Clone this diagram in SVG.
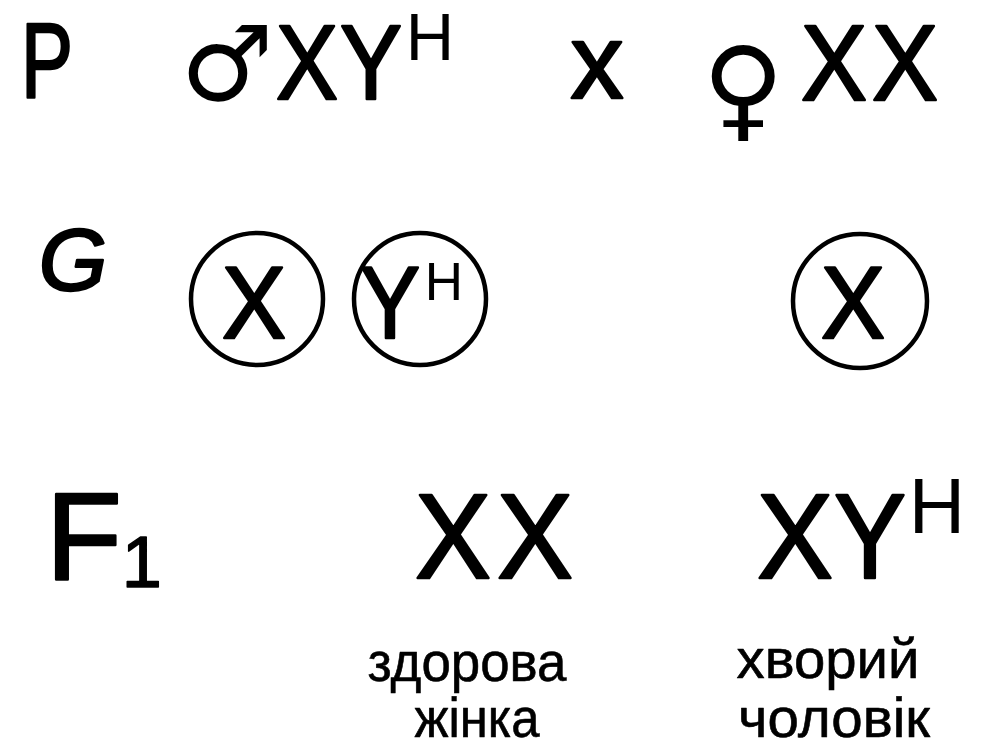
<svg xmlns="http://www.w3.org/2000/svg" width="981" height="749" viewBox="0 0 981 749">
<style>
text{font-family:"Liberation Sans","DejaVu Sans",sans-serif;fill:#000;text-anchor:middle}
.sym{font-family:"DejaVu Sans",sans-serif}
.b{stroke:#000;stroke-width:2.5;stroke-linejoin:round}
.ring{fill:none;stroke:#000;stroke-width:4.5}
.lbl{font-size:55px;stroke:#000;stroke-width:0.6;stroke-linejoin:round}
.st{text-anchor:start}
</style>
<rect width="981" height="749" fill="#fff"/>
<g id="row-P">
<text class="b" x="47" y="97" font-size="105" textLength="52" lengthAdjust="spacingAndGlyphs">P</text>
<text class="sym" x="227" y="100" font-size="104">♂</text>
<text class="b" x="307" y="99" font-size="105" textLength="62" lengthAdjust="spacingAndGlyphs">X</text>
<text class="b" x="371" y="99" font-size="105" textLength="62" lengthAdjust="spacingAndGlyphs">Y</text>
<text x="430" y="60" font-size="67">H</text>
<text class="b" x="597" y="98" font-size="106">x</text>
<text class="sym" x="743" y="127" font-size="112">♀</text>
<text class="b" x="834" y="100" font-size="107" textLength="66" lengthAdjust="spacingAndGlyphs">X</text>
<text class="b" x="905" y="100" font-size="107" textLength="66" lengthAdjust="spacingAndGlyphs">X</text>
</g>
<g id="row-G">
<text class="b" x="73" y="290" font-size="88" font-style="italic" stroke-width="1">G</text>
<g id="gamete-1">
<circle class="ring" cx="257" cy="299" r="66"/>
<text class="b" x="254" y="338" font-size="102" textLength="64" lengthAdjust="spacingAndGlyphs">X</text>
</g>
<g id="gamete-2">
<circle class="ring" cx="420" cy="299" r="66"/>
<text class="b" x="390" y="338" font-size="102" textLength="60" lengthAdjust="spacingAndGlyphs">Y</text>
<text x="444" y="300" font-size="53">H</text>
</g>
<g id="gamete-3">
<circle class="ring" cx="860" cy="301" r="67"/>
<text class="b" x="853" y="338" font-size="102" textLength="64" lengthAdjust="spacingAndGlyphs">X</text>
</g>
</g>
<g id="row-F1">
<text class="b st" x="46" y="580" font-size="124">F<tspan font-size="72" dy="7" stroke-width="1.5">1</tspan></text>
<g id="child-female">
<text class="b" x="453" y="578" font-size="120" textLength="76" lengthAdjust="spacingAndGlyphs">X</text>
<text class="b" x="535" y="578" font-size="120" textLength="76" lengthAdjust="spacingAndGlyphs">X</text>
<text class="lbl" x="467" y="681" textLength="199" lengthAdjust="spacingAndGlyphs">здорова</text>
<text class="lbl" x="477" y="737" textLength="125" lengthAdjust="spacingAndGlyphs">жінка</text>
</g>
<g id="child-male">
<text class="b" x="795" y="578" font-size="120" textLength="76" lengthAdjust="spacingAndGlyphs">X</text>
<text class="b" x="870" y="578" font-size="120" textLength="72" lengthAdjust="spacingAndGlyphs">Y</text>
<text x="937" y="533" font-size="78">H</text>
<text class="lbl" x="828" y="678" textLength="183" lengthAdjust="spacingAndGlyphs">хворий</text>
<text class="lbl" x="834" y="737" textLength="192" lengthAdjust="spacingAndGlyphs">чоловік</text>
</g>
</g>
</svg>
